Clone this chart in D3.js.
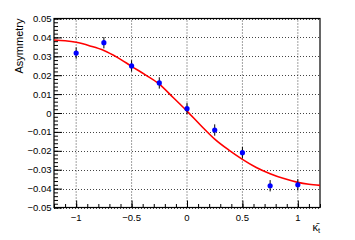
<!DOCTYPE html>
<html>
<head>
<meta charset="utf-8">
<script src="https://d3js.org/d3.v7.min.js"></script>
<style>
  body { margin: 0; background: #fff; }
  text { font-family: "Liberation Sans", Arial, sans-serif; }
</style>
</head>
<body>
<script>
// measured points
var kappa = [-1, -0.75, -0.5, -0.25, 0, 0.25, 0.5, 0.75, 1];
var asym = [0.0317, 0.0372, 0.0249, 0.0159, 0.0023, -0.0090, -0.0210, -0.0385, -0.0380];
var asymErr = [0.003, 0.003, 0.003, 0.003, 0.003, 0.003, 0.003, 0.003, 0.003];

// fit curve
var fitX = [-1.2, -1.1, -1, -0.875, -0.75, -0.625, -0.5, -0.375, -0.25, -0.125, 0, 0.125, 0.25, 0.375, 0.5, 0.625, 0.75, 0.875, 1, 1.1, 1.2];
var fitY = [0.0386, 0.0382, 0.0374, 0.0355, 0.0331, 0.0293, 0.0247, 0.0202, 0.0153, 0.0082, 0.0010, -0.0066, -0.0138, -0.0195, -0.0245, -0.0288, -0.0321, -0.0347, -0.0367, -0.0377, -0.0383];

var xTicks = [-1, -0.5, 0, 0.5, 1];
var yTicks = [0.05, 0.04, 0.03, 0.02, 0.01, 0, -0.01, -0.02, -0.03, -0.04, -0.05];

var W = 355, H = 240;
var m = {left: 54, right: 35, top: 18.5, bottom: 32.5};

var svg = d3.select("body").append("svg")
  .attr("width", W)
  .attr("height", H);

var x = d3.scaleLinear().domain([-1.2, 1.2]).range([m.left, W - m.right]);
var y = d3.scaleLinear().domain([-0.05, 0.05]).range([H - m.bottom, m.top]);

// grid
svg.append("g").selectAll("line")
  .data(xTicks).enter().append("line")
  .attr("x1", function(d){ return x(d); })
  .attr("x2", function(d){ return x(d); })
  .attr("y1", y(-0.05)).attr("y2", y(0.05))
  .attr("stroke", "#444").attr("stroke-width", 1)
  .attr("stroke-dasharray", "1,2");

svg.append("g").selectAll("line")
  .data(yTicks).enter().append("line")
  .attr("x1", x(-1.2)).attr("x2", x(1.2))
  .attr("y1", function(d){ return Math.round(y(d)) + 0.5; })
  .attr("y2", function(d){ return Math.round(y(d)) + 0.5; })
  .attr("stroke", "#444").attr("stroke-width", 1)
  .attr("stroke-dasharray", "1,2");

// axes (ticks inside the frame)
var fmt = function(d){ return d === 0 ? "0" : d3.format("")(+d.toFixed(2)); };

var xAxis = svg.append("g")
  .attr("transform", "translate(0," + y(-0.05) + ")")
  .call(d3.axisTop(x).tickValues(xTicks).tickSize(7).tickFormat(""));
xAxis.select(".domain").remove();

svg.append("g")
  .attr("transform", "translate(0," + y(-0.05) + ")")
  .call(d3.axisTop(x).tickValues(d3.range(-12, 13).map(function(i){ return i / 10; })).tickSize(3.5).tickFormat(""))
  .select(".domain").remove();

svg.append("g").selectAll("text")
  .data(xTicks).enter().append("text")
  .attr("x", function(d){ return x(d); })
  .attr("y", y(-0.05) + 13)
  .attr("text-anchor", "middle")
  .attr("font-size", "9.5px")
  .text(fmt);

var yAxis = svg.append("g")
  .attr("transform", "translate(" + x(-1.2) + ",0)")
  .call(d3.axisRight(y).tickValues(yTicks).tickSize(8).tickFormat(""));
yAxis.select(".domain").remove();

svg.append("g")
  .attr("transform", "translate(" + x(-1.2) + ",0)")
  .call(d3.axisRight(y).tickValues(d3.range(-25, 26).map(function(i){ return i * 0.002; })).tickSize(4).tickFormat(""))
  .select(".domain").remove();

svg.append("g").selectAll("text")
  .data(yTicks).enter().append("text")
  .attr("x", x(-1.2) - 2.5)
  .attr("y", function(d){ return y(d) + 3.5; })
  .attr("text-anchor", "end")
  .attr("font-size", "9.5px")
  .text(fmt);

svg.selectAll(".tick line").attr("stroke", "#000");

// frame
svg.append("rect")
  .attr("x", x(-1.2)).attr("y", y(0.05))
  .attr("width", x(1.2) - x(-1.2))
  .attr("height", y(-0.05) - y(0.05))
  .attr("fill", "none").attr("stroke", "#000").attr("stroke-width", 1.2);

// fit
var line = d3.line()
  .x(function(d, i){ return x(fitX[i]); })
  .y(function(d){ return y(d); })
  .curve(d3.curveMonotoneX);

svg.append("path")
  .datum(fitY)
  .attr("d", line)
  .attr("fill", "none")
  .attr("stroke", "#ff0000")
  .attr("stroke-width", 1.6);

// error bars and markers
svg.append("g").selectAll("line")
  .data(kappa).enter().append("line")
  .attr("x1", function(d){ return x(d); })
  .attr("x2", function(d){ return x(d); })
  .attr("y1", function(d, i){ return y(asym[i] - asymErr[i]); })
  .attr("y2", function(d, i){ return y(asym[i] + asymErr[i]); })
  .attr("stroke", "#000").attr("stroke-width", 1);

svg.append("g").selectAll("circle")
  .data(kappa).enter().append("circle")
  .attr("cx", function(d){ return x(d); })
  .attr("cy", function(d, i){ return y(asym[i]); })
  .attr("r", 2.6)
  .attr("fill", "#0000ff");

// titles
svg.append("text")
  .attr("transform", "translate(23," + y(0.05) + ") rotate(-90)")
  .attr("text-anchor", "end")
  .attr("font-size", "11px")
  .text("Asymmetry");

var kt = svg.append("text")
  .attr("x", 320)
  .attr("y", 231)
  .attr("text-anchor", "end")
  .attr("font-size", "11px");
kt.append("tspan").text("\u03BA\u0304");
kt.append("tspan").attr("font-size", "7.5px").attr("dy", 2).text("t");
</script>
</body>
</html>
